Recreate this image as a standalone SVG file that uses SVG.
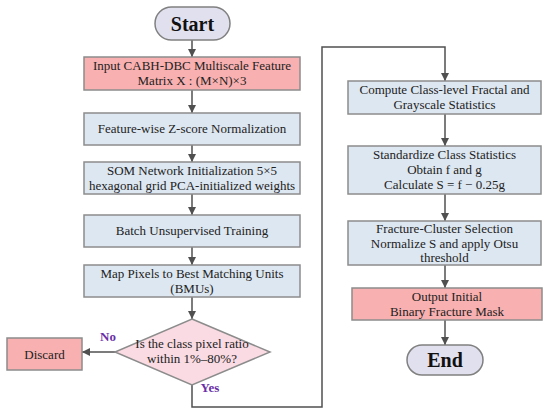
<svg xmlns="http://www.w3.org/2000/svg" width="550" height="414" viewBox="0 0 550 414">
<defs>
<style>
.blue{fill:#dde7f1;stroke:#8c8c8c;stroke-width:1.5}
.red{fill:#f9b0b0;stroke:#8c8c8c;stroke-width:1.5}
.pill{fill:#e1e0ee;stroke:#808080;stroke-width:1.5}
.dia{fill:#fadbe3;stroke:#8c8c8c;stroke-width:1.5}
text{font-family:"Liberation Serif","Times New Roman",serif;font-size:13px;fill:#222;text-anchor:middle}
.big{font-size:20px;font-weight:bold;fill:#111}
.lab{font-size:13px;font-weight:bold;fill:#6a2fa8}
.ln{fill:none;stroke:#505050;stroke-width:1.5}
</style>
<marker id="ah" markerUnits="userSpaceOnUse" markerWidth="10" markerHeight="10" refX="8" refY="4" orient="auto">
<path d="M0,0 L8,4 L0,8 z" fill="#505050"/>
</marker>
</defs>
<rect width="550" height="414" fill="#fff"/>
<g id="connectors">
<line class="ln" x1="192" y1="40" x2="192" y2="57" marker-end="url(#ah)"/>
<line class="ln" x1="192" y1="90" x2="192" y2="113" marker-end="url(#ah)"/>
<line class="ln" x1="192" y1="145" x2="192" y2="162" marker-end="url(#ah)"/>
<line class="ln" x1="192" y1="194" x2="192" y2="215" marker-end="url(#ah)"/>
<line class="ln" x1="192" y1="247" x2="192" y2="265" marker-end="url(#ah)"/>
<line class="ln" x1="192" y1="297" x2="192" y2="319" marker-end="url(#ah)"/>
<line class="ln" x1="115" y1="352" x2="82" y2="352" marker-end="url(#ah)"/>
<path class="ln" d="M192,385 V407 H322 V47 H445 V81" marker-end="url(#ah)"/>
<line class="ln" x1="445" y1="114" x2="445" y2="146" marker-end="url(#ah)"/>
<line class="ln" x1="445" y1="194" x2="445" y2="221" marker-end="url(#ah)"/>
<line class="ln" x1="445" y1="265" x2="445" y2="288" marker-end="url(#ah)"/>
<line class="ln" x1="445" y1="320" x2="445" y2="345" marker-end="url(#ah)"/>
<text class="lab" x="108" y="341">No</text>
<text class="lab" x="210" y="392">Yes</text>
</g>
<g id="start">
<rect class="pill" x="155" y="7" width="75" height="33" rx="16.5"/>
<text class="big" x="192.5" y="30.5">Start</text>
</g>
<g id="input">
<rect class="red" x="84" y="57" width="216" height="33"/>
<text x="192" y="69.5">Input CABH-DBC Multiscale Feature</text>
<text x="192" y="84.5">Matrix X : (M×N)×3</text>
</g>
<g id="zscore">
<rect class="blue" x="84" y="113" width="216" height="32"/>
<text x="192" y="133">Feature-wise Z-score Normalization</text>
</g>
<g id="som">
<rect class="blue" x="84" y="162" width="216" height="32"/>
<text x="192" y="175">SOM Network Initialization 5×5</text>
<text x="192" y="190">hexagonal grid PCA-initialized weights</text>
</g>
<g id="batch">
<rect class="blue" x="84" y="215" width="216" height="32"/>
<text x="192" y="235">Batch Unsupervised Training</text>
</g>
<g id="map">
<rect class="blue" x="84" y="265" width="216" height="32"/>
<text x="192" y="278">Map Pixels to Best Matching Units</text>
<text x="192" y="293">(BMUs)</text>
</g>
<g id="decision">
<polygon class="dia" points="192,319 270,352 192,385 115,352"/>
<text x="192" y="348">Is the class pixel ratio</text>
<text x="192" y="363">within 1%–80%?</text>
</g>
<g id="discard">
<rect class="red" x="7" y="338" width="75" height="32"/>
<text x="44.5" y="358.5">Discard</text>
</g>
<g id="compute">
<rect class="blue" x="348" y="81" width="193" height="33"/>
<text x="444.5" y="94">Compute Class-level Fractal and</text>
<text x="444.5" y="109">Grayscale Statistics</text>
</g>
<g id="standardize">
<rect class="blue" x="348" y="146" width="193" height="48"/>
<text x="444.5" y="159">Standardize Class Statistics</text>
<text x="444.5" y="174">Obtain f and g</text>
<text x="444.5" y="189">Calculate S = f − 0.25g</text>
</g>
<g id="select">
<rect class="blue" x="348" y="221" width="193" height="44"/>
<text x="444.5" y="233">Fracture-Cluster Selection</text>
<text x="444.5" y="248">Normalize S and apply Otsu</text>
<text x="444.5" y="262">threshold</text>
</g>
<g id="output">
<rect class="red" x="352" y="288" width="190" height="32"/>
<text x="447" y="300.5">Output Initial</text>
<text x="447" y="315.5">Binary Fracture Mask</text>
</g>
<g id="end">
<rect class="pill" x="407" y="345" width="76" height="30" rx="15"/>
<text class="big" x="445" y="367">End</text>
</g>
</svg>
